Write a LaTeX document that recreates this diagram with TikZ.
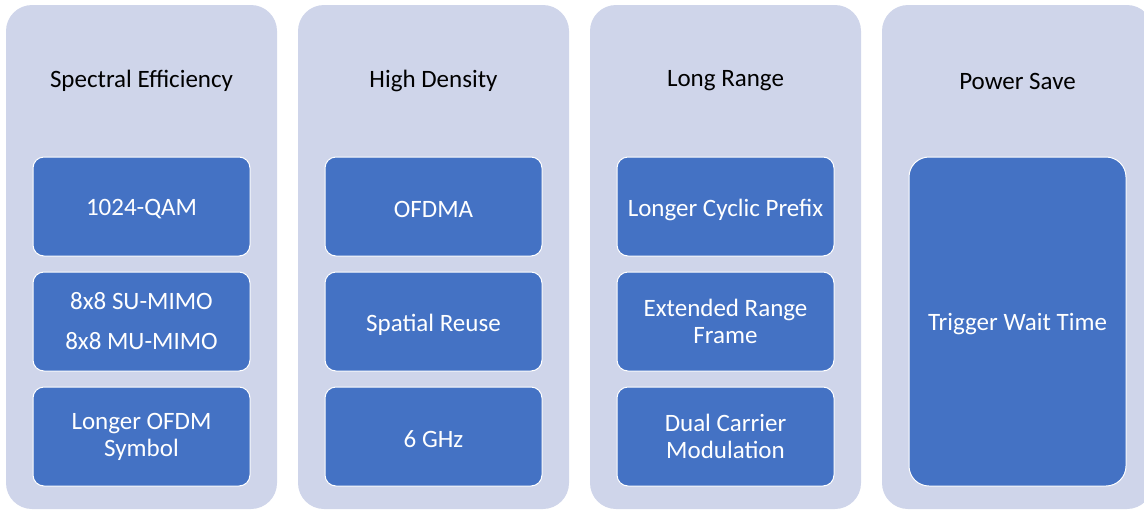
\documentclass[tikz,border=0pt]{standalone}
\usepackage{fontspec}
\setmainfont{Carlito}
\newcommand{\dnx}[1]{\raisebox{-3pt}[\height][\depth]{#1}}
\begin{document}
\begin{tikzpicture}[x=1pt,y=-1pt,
  col/.style={fill=lav, rounded corners=26pt},
  item/.style={draw=white, line width=1pt, fill=blu, rounded corners=11pt,
    minimum width=217pt, minimum height=99pt, text=white, align=center,
    inner sep=0pt, font=\fontsize{25}{27}\selectfont},
  title/.style={text=black, font=\fontsize{25}{27}\selectfont, inner sep=0pt}]
\definecolor{lav}{HTML}{CFD5EA}
\definecolor{blu}{HTML}{4472C4}
\useasboundingbox (0,0) rectangle (1144,512);
\clip (0,0) rectangle (1144,512);
\foreach \i/\x in {1/6,2/298,3/590,4/882}{
  \fill[col] (\x,5) rectangle ++(271,504);
}
\node[title] (t1) at (141.5,81) {Spectral Efficiency};
\node[title] (t2) at (433.5,81) {High Density};
\node[title] (t3) at (725.5,81) {Long Range};
\node[title] (t4) at (1017.5,81) {Power Save};
\node[item] (a1) at (141.5,206.5) {\dnx{1024-QAM}};
\node[item] (a2) at (141.5,321.5) {8x8 SU-MIMO\\[13pt]8x8 MU-MIMO};
\node[item] (a3) at (141.5,436.5) {Longer OFDM\\Symbol};
\node[item] (b1) at (433.5,206.5) {\dnx{OFDMA}};
\node[item] (b2) at (433.5,321.5) {\dnx{Spatial Reuse}};
\node[item] (b3) at (433.5,436.5) {\dnx{6 GHz}};
\node[item] (c1) at (725.5,206.5) {\dnx{Longer Cyclic Prefix}};
\node[item] (c2) at (725.5,321.5) {Extended Range\\Frame};
\node[item] (c3) at (725.5,436.5) {Dual Carrier\\Modulation};
\node[item, minimum height=329pt, rounded corners=20pt] (d1) at (1017.5,321.5) {\dnx{Trigger Wait Time}};
\end{tikzpicture}
\end{document}
